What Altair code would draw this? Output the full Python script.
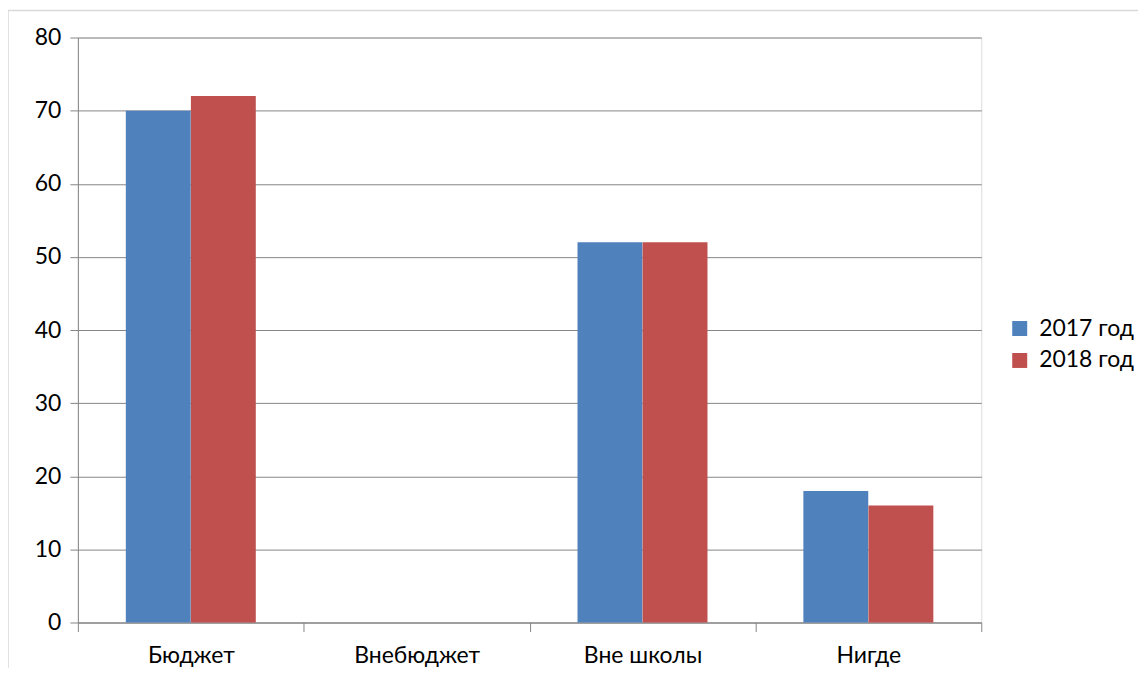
import altair as alt
import pandas as pd

categories = ["Бюджет", "Внебюджет", "Вне школы", "Нигде"]
series = ["2017 год", "2018 год"]
values_2017 = [70, 0, 52, 18]
values_2018 = [72, 0, 52, 16]
colors = ["#4F81BD", "#C0504D"]

rows = []
for c, v in zip(categories, values_2017):
    rows.append({"cat": c, "series": series[0], "value": v})
for c, v in zip(categories, values_2018):
    rows.append({"cat": c, "series": series[1], "value": v})
df = pd.DataFrame(rows)

FONT = "Lato"

bars = alt.Chart(df).mark_bar(size=65).encode(
    x=alt.X("cat:N", sort=categories, title=None,
            scale=alt.Scale(paddingInner=0, paddingOuter=0),
            axis=alt.Axis(labelAngle=0, tickBand="extent", tickSize=9,
                          labelPadding=13, labelFontSize=23, labelColor="#000000",
                          domainColor="#868686", tickColor="#868686", grid=False,
                          labelFont=FONT)),
    xOffset=alt.XOffset("series:N", sort=series,
                        scale=alt.Scale(paddingInner=0, paddingOuter=0.735)),
    y=alt.Y("value:Q", title=None,
            scale=alt.Scale(domain=[0, 80], nice=False),
            axis=alt.Axis(values=list(range(0, 81, 10)), tickSize=8,
                          labelPadding=9, labelFontSize=23, labelColor="#000000",
                          domainColor="#868686", tickColor="#868686",
                          gridColor="#868686", gridWidth=1, labelFont=FONT)),
    color=alt.Color("series:N", sort=series,
                    scale=alt.Scale(domain=series, range=colors),
                    legend=alt.Legend(title=None, orient="none", legendX=932, legendY=280,
                                      symbolType="square", symbolSize=225,
                                      symbolStrokeWidth=0, labelFontSize=23,
                                      labelFont=FONT, labelColor="#000000",
                                      rowPadding=8, labelOffset=8)),
)

border = alt.Chart(pd.DataFrame({"a": [0]})).mark_rect(
    fill=None, stroke="#D9D9D9", strokeWidth=1.5
).encode(x=alt.value(-70), x2=alt.value(1080), y=alt.value(-27), y2=alt.value(680))

chart = alt.layer(border, bars).properties(
    width=905, height=586,
    autosize=alt.AutoSizeParams(type="none"),
    padding={"left": 70, "top": 29, "right": 157, "bottom": 45},
).configure_view(stroke=None).configure(background="white")

chart.save("out.html", embed_options={"renderer": "svg", "actions": False})
